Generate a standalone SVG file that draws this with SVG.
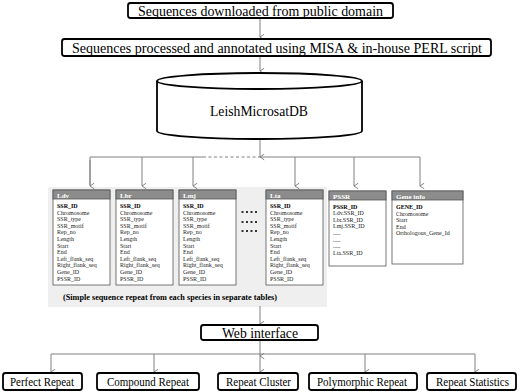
<svg xmlns="http://www.w3.org/2000/svg" width="520" height="392" viewBox="0 0 520 392" font-family="'Liberation Serif', 'Times New Roman', 'DejaVu Serif', serif">
<defs>
<marker id="ah" viewBox="0 0 10 10" refX="5" refY="9" markerWidth="7" markerHeight="7" orient="auto-start-reverse" markerUnits="userSpaceOnUse">
<path d="M1,3 L5,9 L9,3" fill="none" stroke="#777" stroke-width="1.3"/>
</marker>
<style>
.box{fill:#fff;stroke:#000;stroke-width:1.8}
.t{fill:#000;text-anchor:middle}
.c{fill:none;stroke:#808080;stroke-width:1}
.tb{fill:#fff;stroke:#555;stroke-width:0.8}
.th{fill:#8c8c8c;stroke:#555;stroke-width:0.8}
.hd{font-size:7px;font-weight:bold;fill:#fff}
.f{font-size:6px;fill:#222}
.fb{font-weight:bold;fill:#000}
.dot{fill:#333}
</style>
</defs>
<rect width="520" height="392" fill="#fff"/>
<rect x="48" y="187" width="279" height="120" fill="#efefef"/>

<g id="connectors">
<line class="c" x1="260" y1="19" x2="260" y2="37" marker-end="url(#ah)"/>
<line class="c" x1="260" y1="57" x2="260" y2="71" marker-end="url(#ah)"/>
<line class="c" x1="260" y1="140" x2="260" y2="157" marker-end="url(#ah)"/>
<polyline class="c" points="90,185 90,157 203,157"/>
<line class="c" x1="203" y1="157" x2="258" y2="157" stroke-dasharray="3,2.5"/>
<line class="c" x1="258" y1="157" x2="420" y2="157"/>
<line class="c" x1="420" y1="157" x2="420" y2="186" marker-end="url(#ah)"/>
<line class="c" x1="90" y1="160" x2="90" y2="186" marker-end="url(#ah)"/>
<line class="c" x1="142" y1="157" x2="142" y2="186" marker-end="url(#ah)"/>
<line class="c" x1="193" y1="157" x2="193" y2="186" marker-end="url(#ah)"/>
<line class="c" x1="295" y1="157" x2="295" y2="186" marker-end="url(#ah)"/>
<line class="c" x1="354" y1="157" x2="354" y2="186" marker-end="url(#ah)"/>
<line class="c" x1="260" y1="306" x2="260" y2="324" marker-end="url(#ah)"/>
<line class="c" x1="260" y1="340" x2="260" y2="356" marker-end="url(#ah)"/>
<line class="c" x1="51" y1="354" x2="475" y2="354"/>
<line class="c" x1="51" y1="354" x2="51" y2="372" marker-end="url(#ah)"/>
<line class="c" x1="154" y1="354" x2="154" y2="372" marker-end="url(#ah)"/>
<line class="c" x1="260" y1="356" x2="260" y2="372" marker-end="url(#ah)"/>
<line class="c" x1="365" y1="354" x2="365" y2="372" marker-end="url(#ah)"/>
<line class="c" x1="475" y1="354" x2="475" y2="372" marker-end="url(#ah)"/>
</g>

<g id="n-download">
<rect class="box" x="128" y="3" width="265" height="15" rx="2.5"/>
<text class="t" x="260.5" y="15.5" font-size="14" textLength="245" lengthAdjust="spacingAndGlyphs">Sequences downloaded from public domain</text>
</g>
<g id="n-process">
<rect class="box" x="62" y="39" width="429" height="17" rx="2.5"/>
<text class="t" x="277" y="52.5" font-size="14" textLength="410" lengthAdjust="spacingAndGlyphs">Sequences processed and annotated using MISA &amp; in-house PERL script</text>
</g>
<g id="n-db">
<path d="M157,81 L157,131 A102.5,8 0 0 0 362,131 L362,81" fill="#fff" stroke="#000" stroke-width="1.8"/>
<ellipse cx="259.5" cy="81" rx="102.5" ry="8" fill="#fff" stroke="#000" stroke-width="1.8"/>
<text class="t" x="259" y="116" font-size="14.5" textLength="98" lengthAdjust="spacingAndGlyphs">LeishMicrosatDB</text>
</g>

<g id="n-ldv">
<rect class="tb" x="53" y="190" width="57" height="95"/>
<rect class="th" x="53" y="190" width="57" height="9"/>
<text class="hd" x="57" y="197.5">Ldv</text>
<text class="f"><tspan x="57" y="208" class="fb">SSR_ID</tspan><tspan x="57" y="214.6">Chromosome</tspan><tspan x="57" y="221.2">SSR_type</tspan><tspan x="57" y="227.8">SSR_motif</tspan><tspan x="57" y="234.4">Rep_no</tspan><tspan x="57" y="241">Length</tspan><tspan x="57" y="247.6">Start</tspan><tspan x="57" y="254.2">End</tspan><tspan x="57" y="260.8">Left_flank_seq</tspan><tspan x="57" y="267.4">Right_flank_seq</tspan><tspan x="57" y="274">Gene_ID</tspan><tspan x="57" y="280.6">PSSR_ID</tspan></text>
</g>
<g id="n-lbr">
<rect class="tb" x="116" y="190" width="57" height="95"/>
<rect class="th" x="116" y="190" width="57" height="9"/>
<text class="hd" x="120" y="197.5">Lbr</text>
<text class="f"><tspan x="120" y="208" class="fb">SSR_ID</tspan><tspan x="120" y="214.6">Chromosome</tspan><tspan x="120" y="221.2">SSR_type</tspan><tspan x="120" y="227.8">SSR_motif</tspan><tspan x="120" y="234.4">Rep_no</tspan><tspan x="120" y="241">Length</tspan><tspan x="120" y="247.6">Start</tspan><tspan x="120" y="254.2">End</tspan><tspan x="120" y="260.8">Left_flank_seq</tspan><tspan x="120" y="267.4">Right_flank_seq</tspan><tspan x="120" y="274">Gene_ID</tspan><tspan x="120" y="280.6">PSSR_ID</tspan></text>
</g>
<g id="n-lmj">
<rect class="tb" x="179" y="190" width="57" height="95"/>
<rect class="th" x="179" y="190" width="57" height="9"/>
<text class="hd" x="183" y="197.5">Lmj</text>
<text class="f"><tspan x="183" y="208" class="fb">SSR_ID</tspan><tspan x="183" y="214.6">Chromosome</tspan><tspan x="183" y="221.2">SSR_type</tspan><tspan x="183" y="227.8">SSR_motif</tspan><tspan x="183" y="234.4">Rep_no</tspan><tspan x="183" y="241">Length</tspan><tspan x="183" y="247.6">Start</tspan><tspan x="183" y="254.2">End</tspan><tspan x="183" y="260.8">Left_flank_seq</tspan><tspan x="183" y="267.4">Right_flank_seq</tspan><tspan x="183" y="274">Gene_ID</tspan><tspan x="183" y="280.6">PSSR_ID</tspan></text>
</g>
<g id="n-dots">
<rect class="dot" x="241.5" y="211" width="2" height="2"/><rect class="dot" x="246" y="211" width="2" height="2"/><rect class="dot" x="250.5" y="211" width="2" height="2"/><rect class="dot" x="255" y="211" width="2" height="2"/>
<rect class="dot" x="241.5" y="221" width="2" height="2"/><rect class="dot" x="246" y="221" width="2" height="2"/><rect class="dot" x="250.5" y="221" width="2" height="2"/><rect class="dot" x="255" y="221" width="2" height="2"/>
<rect class="dot" x="241.5" y="230" width="2" height="2"/><rect class="dot" x="246" y="230" width="2" height="2"/><rect class="dot" x="250.5" y="230" width="2" height="2"/><rect class="dot" x="255" y="230" width="2" height="2"/>
</g>
<g id="n-lta">
<rect class="tb" x="266" y="190" width="57" height="95"/>
<rect class="th" x="266" y="190" width="57" height="9"/>
<text class="hd" x="270" y="197.5">Lta</text>
<text class="f"><tspan x="270" y="208" class="fb">SSR_ID</tspan><tspan x="270" y="214.6">Chromosome</tspan><tspan x="270" y="221.2">SSR_type</tspan><tspan x="270" y="227.8">SSR_motif</tspan><tspan x="270" y="234.4">Rep_no</tspan><tspan x="270" y="241">Length</tspan><tspan x="270" y="247.6">Start</tspan><tspan x="270" y="254.2">End</tspan><tspan x="270" y="260.8">Left_flank_seq</tspan><tspan x="270" y="267.4">Right_flank_seq</tspan><tspan x="270" y="274">Gene_ID</tspan><tspan x="270" y="280.6">PSSR_ID</tspan></text>
</g>
<g id="n-pssr">
<rect class="tb" x="329" y="191" width="57" height="75"/>
<rect class="th" x="329" y="191" width="57" height="9"/>
<text class="hd" x="333" y="198.5">PSSR</text>
<text class="f"><tspan x="333" y="208.5" class="fb">PSSR_ID</tspan><tspan x="333" y="215.1">Ldv.SSR_ID</tspan><tspan x="333" y="221.7">Lbr.SSR_ID</tspan><tspan x="333" y="228.3">Lmj.SSR_ID</tspan><tspan x="333" y="234.9">.....</tspan><tspan x="333" y="241.5">.....</tspan><tspan x="333" y="248.1">.....</tspan><tspan x="333" y="254.7">Lta.SSR_ID</tspan></text>
</g>
<g id="n-gene">
<rect class="tb" x="392" y="191" width="71" height="73"/>
<rect class="th" x="392" y="191" width="71" height="9"/>
<text class="hd" x="396" y="198.5">Gene info</text>
<text class="f"><tspan x="396" y="209" class="fb">GENE_ID</tspan><tspan x="396" y="215.6">Chromosome</tspan><tspan x="396" y="222.2">Start</tspan><tspan x="396" y="228.8">End</tspan><tspan x="396" y="235.4">Orthologous_Gene_Id</tspan></text>
</g>
<text class="t" x="170" y="300" font-size="8" font-weight="bold" textLength="214" lengthAdjust="spacingAndGlyphs">(Simple sequence repeat from each species in separate tables)</text>

<g id="n-web">
<rect class="box" x="201" y="325" width="117" height="15" rx="2.5"/>
<text class="t" x="260" y="337.5" font-size="14.5" textLength="76" lengthAdjust="spacingAndGlyphs">Web interface</text>
</g>
<g id="n-perfect">
<rect class="box" x="3" y="373" width="79" height="17" rx="2.5"/>
<text class="t" x="42" y="386" font-size="13" textLength="64" lengthAdjust="spacingAndGlyphs">Perfect Repeat</text>
</g>
<g id="n-compound">
<rect class="box" x="97" y="373" width="102" height="17" rx="2.5"/>
<text class="t" x="148" y="386" font-size="13" textLength="82" lengthAdjust="spacingAndGlyphs">Compound Repeat</text>
</g>
<g id="n-cluster">
<rect class="box" x="218" y="373" width="80" height="17" rx="2.5"/>
<text class="t" x="258.5" y="386" font-size="13" textLength="65" lengthAdjust="spacingAndGlyphs">Repeat Cluster</text>
</g>
<g id="n-poly">
<rect class="box" x="309" y="373" width="108" height="17" rx="2.5"/>
<text class="t" x="362" y="386" font-size="13" textLength="90" lengthAdjust="spacingAndGlyphs">Polymorphic Repeat</text>
</g>
<g id="n-stats">
<rect class="box" x="427" y="373" width="89" height="17" rx="2.5"/>
<text class="t" x="472.5" y="386" font-size="13" textLength="73" lengthAdjust="spacingAndGlyphs">Repeat Statistics</text>
</g>
</svg>
